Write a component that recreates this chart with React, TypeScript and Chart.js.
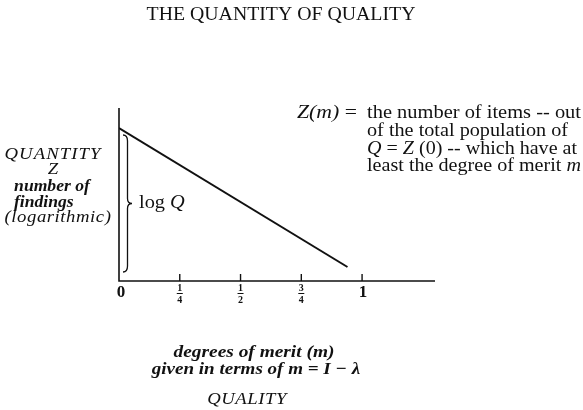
import React, { useEffect, useRef } from "react";
import { Chart, registerables } from "chart.js";

Chart.register(...registerables);

const TITLE = "THE QUANTITY OF QUALITY";
const meritValues = [0, 0.94];
const quantityValues = [0.884, 0.081];
const xTickValues = [0, 0.25, 0.5, 0.75, 1];
const xTickNumerators = ["0", "1", "1", "3", "1"];
const xTickDenominators = ["", "4", "2", "4", ""];
const xMax = 1.3;
const yMax = 1;
const yAxisLabel = ["QUANTITY", "Z", "number of", "findings", "(logarithmic)"];
const xAxisLabel = ["degrees of merit (m)", "given in terms of m = I \u2212 \u03bb", "QUALITY"];
const braceRange = [0.052, 0.844];
const braceLabel = ["log ", "Q"];
const noteLead = ["Z(m)", " ="];
const noteLines = [
  "the number of items -- out",
  "of the total population of",
  "Q = Z (0) -- which have at",
  "least the degree of merit m",
];

const SERIF = '"Liberation Serif", "Times New Roman", Times, serif';
const SX = 1.1;

function drawText(ctx: CanvasRenderingContext2D, s: string, x: number, y: number, font: string, align = "center", sx = SX, spacing = 0) {
  ctx.save();
  ctx.font = font;
  (ctx as any).letterSpacing = spacing + "px";
  const w = ctx.measureText(s).width * sx;
  const left = align === "center" ? x - w / 2 : align === "right" ? x - w : x;
  ctx.translate(left, y);
  ctx.scale(sx, 1);
  ctx.textAlign = "left";
  ctx.textBaseline = "middle";
  ctx.fillText(s, 0, 0);
  ctx.restore();
  return w;
}

function drawRuns(ctx: CanvasRenderingContext2D, runs: [string, string][], x: number, y: number, sx = SX) {
  let cx = x;
  for (const [s, font] of runs) {
    cx += drawText(ctx, s, cx, y, font, "left", sx);
  }
  return cx;
}

function drawRunsFit(ctx: CanvasRenderingContext2D, runs: [string, string][], x: number, right: number, y: number) {
  let natural = 0;
  for (const [s, font] of runs) {
    ctx.save();
    ctx.font = font;
    (ctx as any).letterSpacing = "0px";
    natural += ctx.measureText(s).width;
    ctx.restore();
  }
  drawRuns(ctx, runs, x, y, (right - x) / natural);
}

const annotations = {
  id: "annotations",
  afterDraw(chart: any) {
    const ctx: CanvasRenderingContext2D = chart.ctx;
    const xs = chart.scales.x;
    const ys = chart.scales.y;
    const x0 = xs.getPixelForValue(0);
    const y0 = ys.getPixelForValue(0);
    ctx.save();
    ctx.fillStyle = "#111";
    ctx.strokeStyle = "#111";

    // axes
    ctx.lineWidth = 1.6;
    ctx.beginPath();
    ctx.moveTo(x0, ys.getPixelForValue(yMax));
    ctx.lineTo(x0, y0);
    ctx.lineTo(xs.getPixelForValue(xMax), y0);
    ctx.stroke();

    // ticks + labels
    xTickValues.forEach((v, i) => {
      const px = xs.getPixelForValue(v);
      if (v !== 0) {
        ctx.lineWidth = 1.4;
        ctx.beginPath();
        ctx.moveTo(px, y0 - 7);
        ctx.lineTo(px, y0);
        ctx.stroke();
      }
      if (xTickDenominators[i]) {
        drawText(ctx, xTickNumerators[i], px, y0 + 7, "bold 10px " + SERIF, "center", 1);
        ctx.lineWidth = 1;
        ctx.beginPath();
        ctx.moveTo(px - 3, y0 + 12.5);
        ctx.lineTo(px + 3, y0 + 12.5);
        ctx.stroke();
        drawText(ctx, xTickDenominators[i], px, y0 + 19, "bold 10px " + SERIF, "center", 1);
      } else {
        drawText(ctx, xTickNumerators[i], px + (v === 0 ? 2 : 1), y0 + 12, "bold 17px " + SERIF, "center", 1);
      }
    });

    // brace
    const bt = ys.getPixelForValue(braceRange[1]);
    const bb = ys.getPixelForValue(braceRange[0]);
    const bm = (bt + bb) / 2;
    const bx0 = x0 + 4;
    const bx1 = x0 + 8.5;
    const bx2 = x0 + 13;
    ctx.lineWidth = 1.3;
    ctx.beginPath();
    ctx.moveTo(bx0, bt);
    ctx.quadraticCurveTo(bx1, bt, bx1, bt + 6);
    ctx.lineTo(bx1, bm - 5);
    ctx.quadraticCurveTo(bx1, bm, bx2, bm);
    ctx.quadraticCurveTo(bx1, bm, bx1, bm + 5);
    ctx.lineTo(bx1, bb - 6);
    ctx.quadraticCurveTo(bx1, bb, bx0, bb);
    ctx.stroke();
    drawRuns(ctx, [[braceLabel[0], "18px " + SERIF], [braceLabel[1], "italic 18px " + SERIF]], bx2 + 7, bm, 1.13);

    // title
    drawText(ctx, TITLE, 281, 15, "18px " + SERIF);

    // y axis label
    const yl = [155, 170, 187, 203, 218];
    drawText(ctx, yAxisLabel[0], 53, yl[0], "italic 17px " + SERIF, "center", SX, 1);
    drawText(ctx, yAxisLabel[1], 53, yl[1], "italic 17px " + SERIF);
    drawText(ctx, yAxisLabel[2], 52, yl[2], "italic bold 16px " + SERIF);
    drawText(ctx, yAxisLabel[3], 14, yl[3], "italic bold 16px " + SERIF, "left");
    drawText(ctx, yAxisLabel[4], 58, yl[4], "italic 17px " + SERIF, "center", SX, 0.5);

    // x axis label
    drawText(ctx, xAxisLabel[0], 254, 353, "italic bold 17px " + SERIF, "center", 1.14);
    drawText(ctx, xAxisLabel[1], 256, 370, "italic bold 17px " + SERIF, "center", 1.12);
    drawText(ctx, xAxisLabel[2], 247, 400, "italic 17px " + SERIF, "center", SX, 0.5);

    // note
    const ny = [113, 131, 149, 166];
    const reg = "18px " + SERIF;
    const it = "italic 18px " + SERIF;
    drawRunsFit(ctx, [[noteLead[0], it], [noteLead[1], reg]], 297, 357, ny[0]);
    drawRunsFit(ctx, [[noteLines[0], reg]], 367, 581, ny[0]);
    drawRunsFit(ctx, [[noteLines[1], reg]], 367, 568, ny[1]);
    drawRunsFit(ctx, [["Q", it], [" = ", reg], ["Z", it], [" (0) -- which have at", reg]], 367, 577, ny[2]);
    drawRunsFit(ctx, [["least the degree of merit ", reg], ["m", it]], 367, 581, ny[3]);

    ctx.restore();
  },
};

export default function App() {
  const ref = useRef<HTMLCanvasElement | null>(null);
  useEffect(() => {
    document.body.style.margin = "0";
    let chart: Chart | null = null;
    let cancelled = false;
    const make = () => {
      if (cancelled || !ref.current) return;
      chart = new Chart(ref.current as HTMLCanvasElement, {
        type: "line",
        data: {
          datasets: [
            {
              data: meritValues.map((m, i) => ({ x: m, y: quantityValues[i] })),
              borderColor: "#111",
              borderWidth: 2,
              pointRadius: 0,
              fill: false,
              tension: 0,
            },
          ],
        },
        options: {
          animation: false,
          responsive: false,
          layout: { padding: { left: 119, right: 148, top: 108, bottom: 129 } },
          plugins: { legend: { display: false }, tooltip: { enabled: false }, title: { display: false } },
          scales: {
            x: { type: "linear", min: 0, max: xMax, display: false },
            y: { type: "linear", min: 0, max: yMax, display: false },
          },
        },
        plugins: [annotations],
      });
    };
    const fams = ['17px "Liberation Serif"', 'italic 17px "Liberation Serif"', 'bold 17px "Liberation Serif"', 'italic bold 17px "Liberation Serif"'];
    Promise.all(fams.map((f) => document.fonts.load(f).catch(() => null))).then(make, make);
    return () => {
      cancelled = true;
      if (chart) chart.destroy();
    };
  }, []);
  return (
    <div style={{ position: "fixed", left: 0, top: 0, width: 583, height: 410, background: "#fff" }}>
      <canvas ref={ref} width={583} height={410} style={{ display: "block" }} />
    </div>
  );
}
